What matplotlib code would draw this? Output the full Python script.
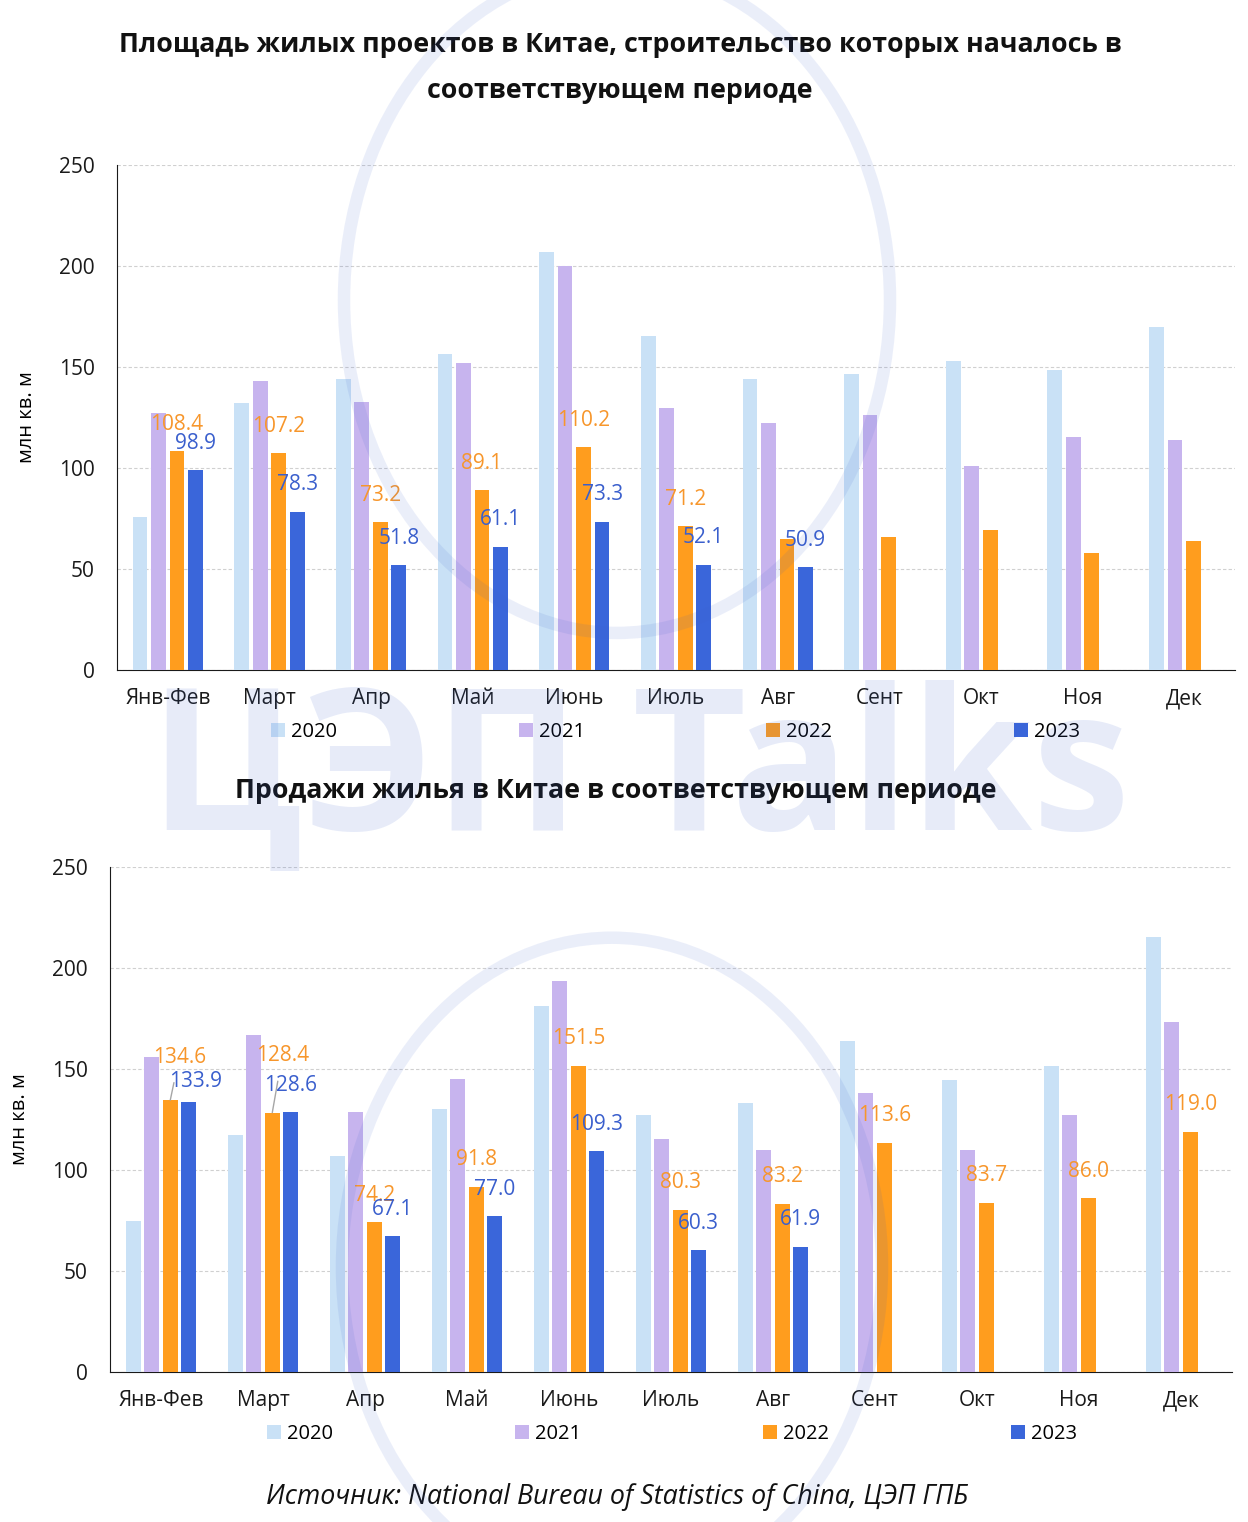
import matplotlib
matplotlib.use("Agg")
import matplotlib.pyplot as plt
from matplotlib.patches import Patch, Circle
import numpy as np

plt.rcParams['font.family'] = ['Open Sans', 'DejaVu Sans']

months = ["Янв-Фев", "Март", "Апр", "Май", "Июнь", "Июль", "Авг", "Сент", "Окт", "Ноя", "Дек"]
years = ["2020", "2021", "2022", "2023"]

starts_2020 = [75.6, 132.2, 144.3, 156.2, 206.7, 165.1, 144.1, 146.7, 153.0, 148.3, 169.6]
starts_2021 = [127.1, 143.0, 132.6, 151.9, 200.1, 129.5, 122.5, 126.1, 101.0, 115.4, 113.8]
starts_2022 = [108.4, 107.2, 73.2, 89.1, 110.2, 71.2, 64.7, 65.8, 69.4, 58.1, 63.9]
starts_2023 = [98.9, 78.3, 51.8, 61.1, 73.3, 52.1, 50.9]
starts_2022_labeled = 6  # labels shown for first 6 months only

sales_2020 = [74.6, 117.2, 106.8, 130.0, 181.4, 127.0, 133.4, 164.0, 144.4, 151.7, 215.4]
sales_2021 = [155.7, 167.0, 128.5, 144.9, 193.7, 115.3, 109.8, 137.9, 109.8, 127.0, 173.5]
sales_2022 = [134.6, 128.4, 74.2, 91.8, 151.5, 80.3, 83.2, 113.6, 83.7, 86.0, 119.0]
sales_2023 = [133.9, 128.6, 67.1, 77.0, 109.3, 60.3, 61.9]
sales_2022_labeled = 11

title_top = "Площадь жилых проектов в Китае, строительство которых началось в\nсоответствующем периоде"
title_bottom = "Продажи жилья в Китае в соответствующем периоде"
ylabel = "млн кв. м"
source = "Источник: National Bureau of Statistics of China, ЦЭП ГПБ"
watermark = "ЦЭП Talks"

colors = ["#C9E1F6", "#C7B4EE", "#FF9D1E", "#3A66DA"]
label_colors = {2: "#F7962B", 3: "#3A5FCD"}
wm_color = "#3A5FCD"

W, H = 1248, 1522
fig = plt.figure(figsize=(W / 100, H / 100), dpi=100)

def fx(px):
    return px / W

def fy(py):
    return 1 - py / H

def draw(ax, series, n22_labels, special):
    x = np.arange(len(months))
    width = 0.145
    step = 0.182
    for i, vals in enumerate(series):
        xs = x[:len(vals)] + (i - 1.5) * step
        ax.bar(xs, vals, width=width, color=colors[i], zorder=3)
        if i >= 2:
            nlab = n22_labels if i == 2 else len(vals)
            for j in range(nlab):
                dx, dy, lead = special.get((i, j), (0, 27, False))
                ax.annotate(f"{vals[j]:.1f}", xy=(xs[j], vals[j]),
                            xytext=(dx, dy), textcoords="offset pixels",
                            ha="center", va="center", fontsize=15,
                            color=label_colors[i], zorder=5,
                            arrowprops=dict(arrowstyle="-", color="#A6A6A6", lw=1,
                                            shrinkA=9, shrinkB=0) if lead else None)
    ax.set_xlim(-0.5, len(months) - 0.5)
    ax.set_ylim(0, 250)
    ax.set_yticks([0, 50, 100, 150, 200, 250])
    ax.set_xticks(x)
    ax.set_xticklabels(months)
    ax.tick_params(axis="both", length=0, labelsize=15, colors="#1a1a1a")
    ax.tick_params(axis="x", pad=13)
    ax.tick_params(axis="y", pad=16)
    ax.yaxis.grid(True, linestyle=(0, (3, 2)), color="#D0D0D0", lw=0.8, zorder=0)
    for s in ["top", "right"]:
        ax.spines[s].set_visible(False)
    ax.spines["left"].set_color("#1a1a1a")
    ax.spines["bottom"].set_color("#1a1a1a")
    ax.set_ylabel(ylabel, fontsize=14.5, labelpad=16)
    ax.set_facecolor("none")

# top chart
ax1 = fig.add_axes([fx(117), fy(670), fx(1235) - fx(117), fy(165) - fy(670)])
draw(ax1, [starts_2020, starts_2021, starts_2022, starts_2023], starts_2022_labeled, {})

# bottom chart
ax2 = fig.add_axes([fx(110), fy(1372), fx(1232) - fx(110), fy(867) - fy(1372)])
special = {(2, 0): (9, 43, True), (3, 0): (7, 20, False), (2, 1): (10, 57, True)}
draw(ax2, [sales_2020, sales_2021, sales_2022, sales_2023], sales_2022_labeled, special)

handles = [Patch(facecolor=c, edgecolor="none") for c in colors]
for ly, x0, x1 in [(732, 271, 1080), (1434, 267, 1077)]:
    fig.legend(handles, years, loc="center left", ncol=4, mode="expand",
               bbox_to_anchor=(fx(x0), fy(ly) - 0.01, fx(x1) - fx(x0), 0.02),
               frameon=False, fontsize=14.5, handlelength=0.7, handleheight=0.7,
               handletextpad=0.3, borderpad=0, borderaxespad=0)

fig.text(fx(620), fy(68), title_top, ha="center", va="center", fontsize=19.3,
         fontweight="bold", linespacing=2.0, color="#111111")
fig.text(fx(616), fy(791), title_bottom, ha="center", va="center", fontsize=19.3,
         fontweight="bold", color="#111111")
fig.text(fx(617), fy(1497), source, ha="center", va="center", fontsize=19.3,
         style="italic", color="#111111")

# watermark: faint globe rings and logo text
for cx, cy, r in [(617, 300, 273), (612, 1267, 270)]:
    fig.patches.append(Circle((fx(cx), fy(cy)), r / W, transform=fig.transFigure,
                              fill=False, lw=9, edgecolor=wm_color, alpha=0.10,
                              zorder=10))
fig.text(fx(640), fy(830), watermark, ha="center", va="baseline", fontsize=142,
         fontweight="bold", color=wm_color, alpha=0.12, zorder=10)

fig.savefig("out.png", dpi=100)
